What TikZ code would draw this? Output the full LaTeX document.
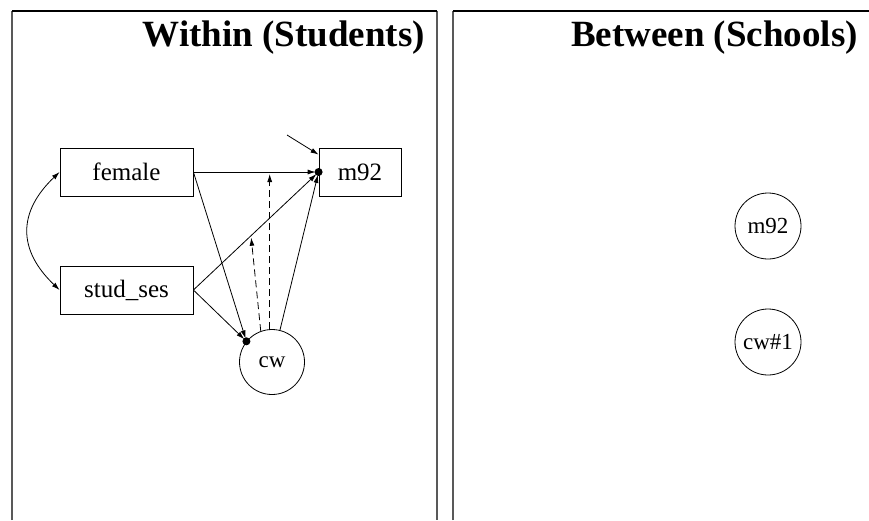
\documentclass[tikz,border=0pt]{standalone}
\usepackage{fontspec}
\setmainfont{Liberation Serif}
\usetikzlibrary{arrows.meta}

\tikzset{
	obsbox/.style={draw,line width=0.8pt,minimum height=48pt,inner sep=0pt,font=\fontsize{25}{30}\selectfont},
	latcirc/.style={draw,circle,line width=0.8pt,minimum size=65pt,inner sep=0pt,font=\fontsize{23}{28}\selectfont},
	pathline/.style={line width=0.8pt,-{Latex[length=8pt,width=5pt]}},
	modline/.style={pathline,dash pattern=on 7pt off 4pt},
	paneltitle/.style={anchor=base east,inner sep=0pt,font=\fontsize{37}{44}\selectfont\bfseries},
	panelside/.style={line width=1.6pt,black!65},
	paneltop/.style={line width=1.2pt}
}

\begin{document}
\begin{tikzpicture}[x=1pt,y=-1pt]
		\useasboundingbox (0,0) rectangle (869,520);

		% panels
		\draw[panelside] (12,520) -- (12,11);
		\draw[panelside] (437,11) -- (437,520);
		\draw[paneltop] (12,11) -- (437,11);
		\draw[panelside] (453,520) -- (453,11);
		\draw[paneltop] (453,11) -- (870,11);
		\node[paneltitle] (wtitle) at (425,46) {Within (Students)};
		\node[paneltitle] (btitle) at (858,46) {Between (Schools)};

		% within part
		\node[obsbox,minimum width=133pt] (female) at (126.5,172) {female};
		\node[obsbox,minimum width=133pt] (studses) at (126.5,290) {stud\_ses};
		\node[obsbox,minimum width=82pt] (m92) at (360,172) {m92};
		\node[latcirc] (cw) at (272,362) {cw};

		\coordinate (m92dot) at (m92.west);
		\coordinate (cwdot) at (cw.141);
		\coordinate (res) at (287,135);
		\fill (m92dot) circle (4pt);
		\fill (cwdot) circle (4pt);

		\draw[pathline,shorten >=3pt] (female.east) -- (m92dot);
		\draw[pathline,shorten >=3pt] (studses.east) -- (m92dot);
		\draw[pathline,shorten >=3pt] (cw.76) -- (m92dot);
		\draw[pathline,shorten >=3pt] (female.east) -- (cwdot);
		\draw[pathline,shorten >=3pt] (studses.east) -- (cwdot);
		\draw[pathline] (res) -- ([yshift=-7pt]m92.north west);

		\path (studses.east) -- (m92dot) coordinate[pos=0.46] (hit);
		\draw[modline,shorten >=2pt] (cw.94) -- (cw.94 |- female.east);
		\draw[modline,shorten >=2pt] (cw.110) -- (hit);

		\draw[pathline,{Latex[length=8pt,width=5pt]}-{Latex[length=8pt,width=5pt]}] (female.west) .. controls +(-42,40) and +(-42,-40) .. (studses.west);

		% between part
		\node[latcirc,minimum size=66pt] (m92b) at (768,226) {m92};
		\node[latcirc,minimum size=66pt] (cwb) at (768,342) {cw\#1};
	\end{tikzpicture}
\end{document}
